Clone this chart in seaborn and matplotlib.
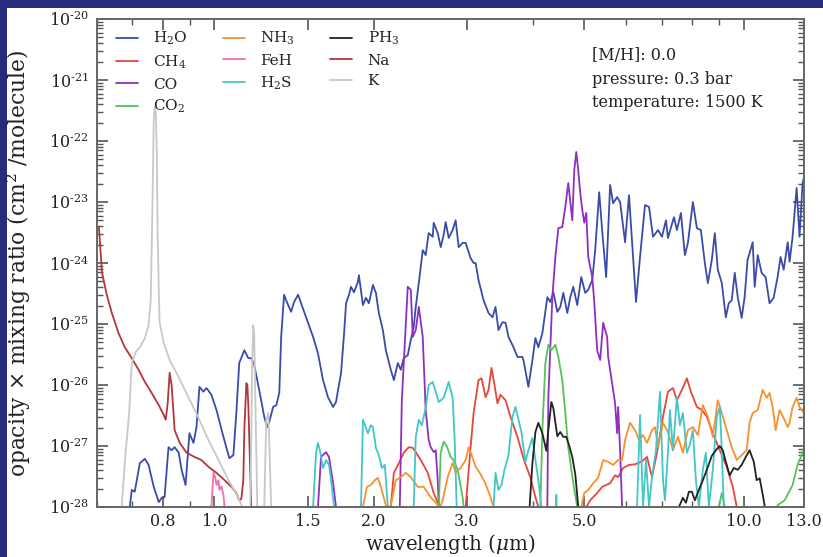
import numpy as np
import pandas as pd
import matplotlib
matplotlib.use("Agg")
import matplotlib.pyplot as plt
from matplotlib.patches import Rectangle
from matplotlib.ticker import FixedLocator, FixedFormatter, LogLocator, NullFormatter
import seaborn as sns

# ---------------- data (wavelength in micron, log10 of opacity x mixing ratio) ----------------
species = ["H$_2$O", "CH$_4$", "CO", "CO$_2$", "NH$_3$", "FeH", "H$_2$S", "PH$_3$", "Na", "K"]
colors = ["#3B4CA8", "#E8453C", "#8E2FC0", "#55C25A", "#F5922F",
          "#EE6FB5", "#43C6C8", "#222222", "#B0373A", "#C8C8C8"]

xtick_values = [0.8, 1.0, 1.5, 2.0, 3.0, 5.0, 10.0, 13.0]
xtick_labels = ["0.8", "1.0", "1.5", "2.0", "3.0", "5.0", "10.0", "13.0"]
ytick_exponents = [-28, -27, -26, -25, -24, -23, -22, -21, -20]

h2o_wl = [0.692, 0.698, 0.707, 0.723, 0.739, 0.751, 0.768, 0.785, 0.795, 0.805, 0.819, 0.830, 0.841, 0.856,
          0.867, 0.882, 0.897, 0.913, 0.925, 0.937, 0.953, 0.966, 0.987, 1.009, 1.040, 1.067, 1.086, 1.100,
          1.114, 1.139, 1.159, 1.174, 1.189, 1.215, 1.242, 1.258, 1.269, 1.291, 1.309, 1.326, 1.337, 1.354,
          1.366, 1.396, 1.414, 1.439, 1.458, 1.490, 1.536, 1.569, 1.604, 1.639, 1.676, 1.697, 1.735, 1.758,
          1.773, 1.796, 1.811, 1.835, 1.867, 1.875, 1.908, 1.933, 1.958, 1.993, 2.019, 2.045, 2.081, 2.108,
          2.154, 2.183, 2.221, 2.250, 2.279, 2.319, 2.350, 2.380, 2.401, 2.433, 2.475, 2.507, 2.540, 2.585,
          2.596, 2.642, 2.676, 2.711, 2.735, 2.771, 2.819, 2.856, 2.894, 2.944, 2.983, 3.022, 3.048, 3.088,
          3.115, 3.155, 3.225, 3.295, 3.353, 3.397, 3.441, 3.502, 3.548, 3.594, 3.673, 3.737, 3.819, 3.836,
          3.919, 3.989, 4.041, 4.093, 4.165, 4.256, 4.312, 4.369, 4.445, 4.503, 4.562, 4.642, 4.703, 4.764,
          4.848, 4.933, 5.019, 5.085, 5.174, 5.241, 5.333, 5.402, 5.497, 5.593, 5.666, 5.766, 5.841, 5.969,
          6.072, 6.179, 6.260, 6.370, 6.510, 6.624, 6.740, 6.888, 7.008, 7.131, 7.193, 7.382, 7.479, 7.610,
          7.743, 7.845, 8.017, 8.158, 8.301, 8.445, 8.556, 8.705, 8.819, 8.935, 9.092, 9.251, 9.370, 9.493,
          9.618, 9.744, 9.913, 10.04, 10.17, 10.40, 10.49, 10.63, 10.81, 11.00, 11.19, 11.39, 11.59, 11.74,
          11.90, 12.11, 12.21, 12.37, 12.59, 12.75, 12.92, 13.03]
h2o_logk = [-28.0, -27.72, -27.75, -27.28, -27.21, -27.31, -27.67, -27.92, -27.85, -27.84, -27.02, -27.07, -27.02, -27.11,
            -27.39, -27.64, -26.79, -26.95, -26.69, -26.03, -26.11, -26.05, -26.16, -26.41, -26.85, -27.20, -27.15, -26.46,
            -25.64, -25.43, -25.56, -25.56, -25.67, -26.08, -26.52, -26.69, -26.61, -26.36, -26.33, -26.13, -25.21, -24.52,
            -24.61, -24.80, -24.64, -24.52, -24.66, -24.89, -25.21, -25.48, -25.92, -26.20, -26.36, -26.28, -25.80, -25.15,
            -24.66, -24.52, -24.39, -24.48, -24.31, -24.20, -24.69, -24.57, -24.66, -24.36, -24.49, -24.82, -25.10, -25.43,
            -25.75, -25.92, -25.64, -25.75, -25.56, -25.51, -25.26, -25.05, -24.72, -24.33, -23.79, -23.87, -23.51, -23.57,
            -23.34, -23.51, -23.74, -23.54, -23.33, -23.59, -23.46, -23.30, -23.74, -23.67, -23.67, -23.82, -23.92, -24.00,
            -24.00, -24.28, -24.61, -24.82, -24.89, -24.72, -25.10, -24.97, -24.98, -25.21, -25.38, -25.54, -25.54, -25.59,
            -26.03, -25.59, -25.23, -25.38, -25.15, -24.56, -24.64, -24.48, -24.80, -24.72, -24.49, -24.82, -24.56, -24.39,
            -24.69, -24.23, -24.49, -24.44, -24.28, -23.79, -22.84, -23.46, -24.23, -22.72, -23.02, -22.92, -23.00, -23.66,
            -22.89, -23.90, -24.64, -23.90, -23.05, -23.08, -23.57, -23.46, -23.57, -23.30, -23.59, -23.25, -23.46, -23.18,
            -23.87, -23.67, -23.00, -23.43, -23.46, -24.00, -24.33, -23.95, -23.51, -24.11, -24.33, -24.89, -24.66, -24.61,
            -24.16, -24.56, -24.90, -24.56, -23.95, -23.66, -24.39, -23.87, -24.16, -24.23, -24.66, -24.57, -24.23, -23.90,
            -24.11, -23.66, -23.98, -23.57, -22.77, -23.57, -22.69, -22.56]

ch4_wl = [2.117, 2.154, 2.183, 2.231, 2.279, 2.329, 2.370, 2.401, 2.454, 2.530, 2.596, 2.654, 2.676,
          2.944, 2.983, 3.048, 3.088, 3.155, 3.197, 3.253, 3.295, 3.338, 3.382, 3.426, 3.471, 3.548, 3.625,
          3.737, 3.836, 3.954, 4.041, 4.093, 4.150,
          4.955, 5.041, 5.129, 5.286, 5.402, 5.593, 5.715, 5.791, 5.918, 6.072, 6.233, 6.398, 6.567, 6.711,
          6.858, 7.039, 7.193, 7.350, 7.479, 7.643, 7.811, 7.947, 8.158, 8.337, 8.519, 8.743, 9.013, 9.290,
          9.536, 9.703, 9.830]
ch4_logk = [-30.0, -28.0, -27.44, -27.28, -27.11, -27.02, -27.03, -27.10, -27.23, -27.44, -27.77, -27.97, -30.0,
            -30.0, -28.0, -27.02, -26.46, -25.92, -25.89, -26.20, -26.08, -25.72, -26.00, -26.30, -26.16, -26.25, -26.52,
            -26.85, -27.20, -27.52, -27.84, -28.0, -30.0,
            -30.0, -28.0, -27.89, -27.77, -27.67, -27.61, -27.48, -27.51, -27.36, -27.31, -27.30, -27.26, -27.18, -27.51,
            -27.11, -26.52, -26.11, -26.05, -26.25, -26.08, -25.89, -26.11, -26.36, -26.41, -26.52, -26.79, -27.07, -27.34,
            -27.67, -28.0, -30.0]

co_wl = [1.530, 1.569, 1.590, 1.625, 1.646, 1.676, 1.697, 1.720,
         2.220, 2.240, 2.260, 2.319, 2.350, 2.370, 2.401, 2.433, 2.475, 2.507, 2.540, 2.563, 2.596, 2.619,
         2.642, 2.654, 2.700,
         4.200, 4.256, 4.275, 4.350, 4.407, 4.465, 4.542, 4.602, 4.662, 4.744, 4.785, 4.827, 4.869, 4.911,
         4.955, 4.998, 5.041, 5.085, 5.174, 5.218, 5.286, 5.356, 5.426, 5.473, 5.521, 5.545, 5.641, 5.715,
         5.766, 5.791, 5.841, 5.892, 5.970]
co_logk = [-30.0, -28.0, -27.18, -27.10, -27.18, -27.61, -28.0, -30.0,
           -30.0, -28.0, -26.25, -24.39, -24.44, -25.21, -25.10, -24.72, -25.21, -26.41, -26.90, -27.02, -27.10, -27.07,
           -27.56, -28.0, -30.0,
           -30.0, -28.0, -26.20, -24.56, -23.90, -23.43, -23.41, -23.08, -22.69, -23.30, -22.48, -22.18, -22.48, -22.85,
           -23.13, -23.34, -23.18, -23.90, -24.23, -24.61, -25.43, -25.59, -24.98, -25.10, -25.21, -25.54, -25.97, -26.30,
           -26.79, -26.36, -27.07, -28.0, -30.0]

co2_wl = [2.630, 2.654, 2.676, 2.711, 2.747, 2.795, 2.831, 2.881, 2.944, 2.957, 3.000,
          4.070, 4.129, 4.165, 4.220, 4.275, 4.331, 4.407, 4.465, 4.542, 4.602, 4.662, 4.764, 4.848, 4.910,
          8.820, 8.974, 9.092, 9.210, 9.330,
          11.34, 11.59, 11.95, 12.37, 12.64, 12.92, 13.03]
co2_logk = [-30.0, -28.0, -27.11, -26.93, -27.00, -27.18, -27.23, -27.39, -27.84, -28.0, -30.0,
            -30.0, -28.0, -26.74, -25.64, -25.34, -25.43, -25.34, -25.54, -25.92, -26.46, -27.02, -27.61, -28.0, -30.0,
            -30.0, -28.0, -27.77, -28.0, -30.0,
            -30.0, -27.97, -27.89, -27.64, -27.31, -27.11, -26.98]

nh3_wl = [1.890, 1.908, 1.941, 1.975, 2.010, 2.036, 2.063, 2.108, 2.126, 2.154, 2.202, 2.250, 2.299, 2.350,
          2.422, 2.486, 2.563, 2.642, 2.665, 2.699, 2.759, 2.819, 2.856, 2.919, 2.983, 3.022, 3.062, 3.115,
          3.183, 3.253, 3.324, 3.368, 3.410,
          4.850, 4.933, 4.998, 5.085, 5.196, 5.309, 5.426, 5.545, 5.666, 5.791, 5.892, 5.969, 6.099, 6.233,
          6.342, 6.454, 6.567, 6.711, 6.799, 6.888, 7.039, 7.193, 7.350, 7.512, 7.676, 7.845, 8.017, 8.193,
          8.372, 8.556, 8.743, 8.935, 9.092, 9.290, 9.493, 9.703, 9.913, 10.13, 10.26, 10.40, 10.63, 10.86,
          11.05, 11.19, 11.34, 11.49, 11.69, 11.90, 12.11, 12.21, 12.37, 12.59, 12.75, 13.00]
nh3_logk = [-30.0, -28.0, -27.67, -27.64, -27.56, -27.52, -27.67, -27.97, -28.02, -27.97, -27.56, -27.51, -27.44, -27.51,
            -27.67, -27.67, -27.84, -27.97, -28.02, -27.89, -27.51, -27.28, -27.43, -27.36, -27.23, -27.02, -27.15, -27.34,
            -27.46, -27.62, -27.84, -28.0, -30.0,
            -30.0, -28.0, -27.77, -27.72, -27.61, -27.52, -27.23, -27.26, -27.31, -27.23, -27.23, -26.90, -26.62, -26.74,
            -26.90, -26.82, -26.95, -26.74, -26.69, -27.02, -26.62, -26.77, -27.07, -26.85, -27.11, -26.74, -26.69, -26.82,
            -26.33, -26.52, -26.85, -26.25, -26.46, -26.74, -27.02, -27.23, -27.15, -27.07, -26.62, -26.46, -26.41, -26.08,
            -26.21, -26.13, -26.36, -26.74, -26.41, -26.54, -26.69, -26.62, -26.36, -26.21, -26.36, -26.46]

feh_wl = [0.978, 0.987, 0.996, 1.004, 1.009, 1.018, 1.022, 1.031, 1.040, 1.045, 1.053]
feh_logk = [-30.0, -28.0, -27.44, -27.52, -27.64, -27.56, -27.72, -27.66, -27.80, -28.0, -30.0]

h2s_wl = [1.520, 1.536, 1.556, 1.569, 1.582, 1.604, 1.625, 1.646, 1.661, 1.683, 1.700,
          1.875, 1.892, 1.908, 1.933, 1.950, 1.975, 1.993, 2.019, 2.045, 2.072, 2.099, 2.126, 2.154,
          2.360, 2.380, 2.401, 2.433, 2.465, 2.507, 2.540, 2.585, 2.619, 2.654, 2.711, 2.771, 2.819, 2.844,
          2.869, 2.910,
          3.340, 3.368, 3.397, 3.441, 3.486, 3.532, 3.594, 3.657, 3.705, 3.754, 3.802, 3.869, 3.919, 3.989,
          4.041, 4.093, 4.147, 4.200,
          4.390, 4.426, 4.460,
          6.230, 6.288, 6.370, 6.454, 6.538, 6.624, 6.711, 6.828, 6.948, 7.039, 7.100, 7.193, 7.255, 7.350,
          7.479, 7.577, 7.676, 7.811, 7.913, 8.017, 8.122, 8.228, 8.372, 8.482, 8.593, 8.743, 8.896, 9.013,
          9.092, 9.171, 9.290]
h2s_logk = [-30.0, -28.0, -27.11, -26.95, -27.07, -27.36, -27.23, -27.31, -27.56, -28.0, -30.0,
            -30.0, -28.0, -26.57, -26.70, -26.79, -26.66, -26.69, -27.03, -27.15, -27.36, -27.31, -28.0, -30.0,
            -30.0, -28.0, -26.85, -26.57, -26.66, -26.38, -26.00, -25.95, -26.11, -26.28, -26.21, -25.95, -26.21, -26.90,
            -28.0, -30.0,
            -30.0, -28.0, -27.44, -27.72, -27.64, -27.39, -27.15, -26.52, -26.36, -26.57, -26.77, -27.26, -27.07, -26.87,
            -27.23, -27.56, -28.0, -30.0,
            -30.0, -27.80, -30.0,
            -30.0, -28.0, -26.49, -28.0, -27.23, -28.0, -27.51, -27.07, -26.11, -27.56, -27.89, -27.11, -26.41, -27.07,
            -26.20, -26.66, -26.46, -27.11, -26.98, -26.74, -27.56, -28.0, -27.39, -27.11, -28.0, -27.39, -26.52, -26.36,
            -27.07, -28.0, -30.0]

ph3_wl = [3.870, 3.940, 3.989, 4.041, 4.093, 4.165, 4.238, 4.275, 4.331, 4.369, 4.445, 4.503, 4.562, 4.622,
          4.683, 4.744, 4.806, 4.869, 4.930,
          7.450, 7.544, 7.676, 7.778, 7.879, 7.982, 8.087, 8.228, 8.372, 8.519, 8.705, 8.896, 9.013, 9.131,
          9.251, 9.411, 9.577, 9.744, 9.913, 10.09, 10.26, 10.45, 10.58, 10.72, 10.86, 10.95, 11.05]
ph3_logk = [-30.0, -28.0, -27.28, -26.77, -26.62, -26.79, -27.08, -26.74, -26.28, -26.38, -26.84, -26.77, -26.85, -26.85,
            -27.00, -27.18, -27.46, -28.0, -30.0,
            -30.0, -28.0, -27.85, -27.93, -27.75, -27.75, -27.89, -27.72, -27.56, -27.39, -27.16, -27.05, -27.00, -27.07,
            -27.26, -27.48, -27.36, -27.39, -27.31, -27.18, -27.07, -27.26, -27.56, -27.53, -27.79, -27.97, -30.0]

na_wl = [0.605, 0.613, 0.626, 0.640, 0.659, 0.677, 0.698, 0.719, 0.739, 0.761, 0.785, 0.802, 0.809, 0.816,
         0.823, 0.830, 0.837, 0.841, 0.860, 0.886, 0.917, 0.945, 0.974, 1.009, 1.045, 1.077, 1.100, 1.114,
         1.124, 1.134, 1.139, 1.149, 1.154, 1.159, 1.164, 1.174, 1.190]
na_logk = [-23.41, -24.15, -24.52, -24.82, -25.15, -25.38, -25.56, -25.75, -25.95, -26.13, -26.33, -26.49, -26.57, -26.30,
           -25.80, -26.00, -26.46, -26.74, -26.95, -27.11, -27.18, -27.23, -27.34, -27.44, -27.56, -27.67, -27.77, -27.89,
           -27.87, -27.56, -26.74, -25.97, -26.00, -26.33, -26.90, -28.0, -30.0]

k_wl = [0.664, 0.668, 0.677, 0.690, 0.698, 0.710, 0.723, 0.739, 0.751, 0.758, 0.761, 0.765, 0.768, 0.771,
        0.775, 0.778, 0.781, 0.785, 0.788, 0.802, 0.823, 0.856, 0.893, 0.933, 0.974, 1.018, 1.063, 1.109,
        1.129, 1.144, 1.159, 1.169, 1.179, 1.184, 1.189, 1.195, 1.205, 1.215, 1.231, 1.242, 1.253, 1.264,
        1.269, 1.280, 1.290]
k_logk = [-30.0, -28.0, -27.28, -26.46, -25.64, -25.46, -25.38, -25.23, -25.02, -24.61, -23.79, -22.64, -21.66, -21.44,
          -21.52, -22.15, -23.46, -24.44, -24.98, -25.31, -25.59, -25.87, -26.20, -26.54, -26.90, -27.23, -27.56, -27.84,
          -28.0, -30.0, -30.0, -28.0, -25.59, -25.02, -25.18, -26.25, -28.0, -30.0, -30.0, -28.0, -26.57, -26.46,
          -26.90, -28.0, -30.0]

series = [(h2o_wl, h2o_logk), (ch4_wl, ch4_logk), (co_wl, co_logk), (co2_wl, co2_logk),
          (nh3_wl, nh3_logk), (feh_wl, feh_logk), (h2s_wl, h2s_logk), (ph3_wl, ph3_logk),
          (na_wl, na_logk), (k_wl, k_logk)]

frames = []
for name, (wl, lk) in zip(species, series):
    frames.append(pd.DataFrame({"wavelength": wl,
                                "opacity": np.power(10.0, np.array(lk)),
                                "species": name}))
df = pd.concat(frames, ignore_index=True)

# ---------------- style ----------------
sns.set_style("ticks")
plt.rcParams["font.family"] = ["DejaVu Serif"]
plt.rcParams["mathtext.fontset"] = "dejavuserif"
text_color = "#222222"

W, H = 823, 557
fig = plt.figure(figsize=(W / 100, H / 100), dpi=100)
fig.patch.set_facecolor("#262c7c")
fig.patches.append(Rectangle((7 / W, 0), 1, 1 - 8 / H, transform=fig.transFigure,
                             facecolor="white", edgecolor="none", zorder=-10))

ax = fig.add_axes([97 / W, 1 - 507 / H, (804 - 97) / W, (507 - 19) / H])
ax.set_facecolor("white")
ax.set_xscale("log")
ax.set_yscale("log")

sns.lineplot(data=df, x="wavelength", y="opacity", hue="species", hue_order=species,
             palette=colors, estimator=None, sort=False, linewidth=1.3, ax=ax, legend=True)

ax.set_xlim(0.6, 13.0)
ax.set_ylim(1e-28, 1e-20)

ax.xaxis.set_major_locator(FixedLocator(xtick_values))
ax.xaxis.set_major_formatter(FixedFormatter(xtick_labels))
ax.xaxis.set_minor_locator(LogLocator(base=10, subs=np.arange(2, 10)))
ax.xaxis.set_minor_formatter(NullFormatter())

ax.yaxis.set_major_locator(FixedLocator([10.0 ** e for e in ytick_exponents]))
ax.yaxis.set_major_formatter(FixedFormatter(["$10^{\\text{-}%d}$" % (-e) for e in ytick_exponents]))
ax.yaxis.set_minor_locator(LogLocator(base=10, subs=np.arange(2, 10)))
ax.yaxis.set_minor_formatter(NullFormatter())

ax.tick_params(which="both", direction="in", top=True, right=True, color="#555555")
ax.tick_params(which="major", length=8, width=1.2, labelsize=11.5, labelcolor=text_color)
ax.tick_params(which="minor", length=4, width=1.0)
ax.tick_params(axis="y", which="major", pad=6)
ax.tick_params(axis="x", which="major", pad=4)
for sp in ax.spines.values():
    sp.set_color("#666666")
    sp.set_linewidth(1.4)

ax.set_xlabel("wavelength ($\\mu$m)", fontsize=14.3, color=text_color)
ax.set_ylabel("opacity $\\times$ mixing ratio (cm$^2$ /molecule)", fontsize=15.7, color=text_color)
ax.xaxis.set_label_coords(0.5, -0.052)
ax.yaxis.set_label_coords(-0.090, 0.5)

handles, labels = ax.get_legend_handles_labels()
ax.legend(handles, labels, ncol=3, loc="upper left", frameon=False, fontsize=11,
          bbox_to_anchor=(19 / 707, 1 - 11 / 488), borderaxespad=0, borderpad=0,
          handlelength=1.45, handletextpad=1.0, columnspacing=2.3, labelspacing=0.42,
          labelcolor=text_color)

ax.text(0.700, 0.9426, "[M/H]: 0.0\npressure: 0.3 bar\ntemperature: 1500 K",
        transform=ax.transAxes, ha="left", va="top", fontsize=11.5, color=text_color,
        linespacing=1.5)

fig.savefig("out.png", dpi=100, facecolor=fig.get_facecolor())
